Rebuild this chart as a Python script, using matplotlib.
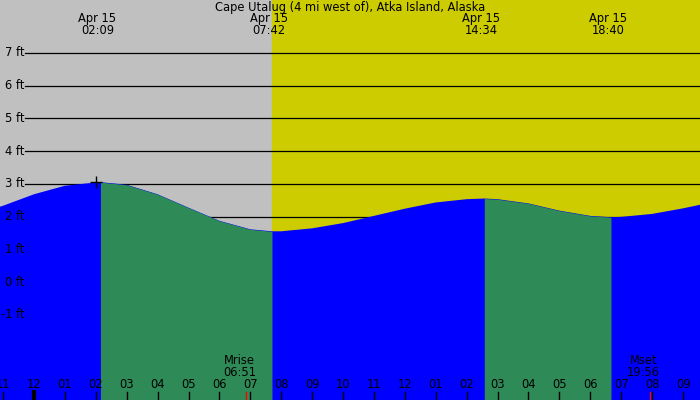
import numpy as np
import matplotlib
matplotlib.use('Agg')
from matplotlib import pyplot as plt

title = "Cape Utalug (4 mi west of), Atka Island, Alaska"
# tide height (ft), hours after midnight Apr 15
hours = [-1.1, -1, 0, 1, 2, 2.15, 3, 4, 5, 6, 7, 7.7, 8, 9, 10, 11, 12, 13, 14, 14.57,
         15, 16, 17, 18, 18.67, 19, 20, 21, 21.6]
heights = [2.30, 2.33, 2.68, 2.94, 3.04, 3.05, 2.97, 2.68, 2.27, 1.87, 1.61, 1.55, 1.55, 1.64,
           1.80, 2.02, 2.24, 2.43, 2.53, 2.55, 2.53, 2.40, 2.18, 2.02, 1.98, 1.99, 2.08, 2.25, 2.37]
falling = [(2.15, 7.7), (14.57, 18.67)]  # high -> low, drawn green
sunrise = 7.7
top_labels = [(2.15, "02:09"), (7.7, "07:42"), (14.57, "14:34"), (18.67, "18:40")]
moon = [(6.85, "Mrise", "06:51"), (19.93, "Mset", "19:56")]
ft_levels = [-1, 0, 1, 2, 3, 4, 5, 6, 7]

x0, x1 = -1.1, 21.55
y0, y1 = -3.6, 8.61
fs = 8.3

fig = plt.figure(figsize=(7, 4), dpi=100)
ax = fig.add_axes([0, 0, 1, 1])
ax.set_xlim(x0, x1)
ax.set_ylim(y0, y1)
ax.axis('off')

ax.axvspan(x0, sunrise, color='#c0c0c0', zorder=0)
ax.axvspan(sunrise, x1, color='#cccc00', zorder=0)

lx = x0 + (x1 - x0) * 25 / 700
for f in ft_levels:
    ax.plot([lx, x1], [f, f], color='black', lw=0.9, zorder=1)
    ax.text(lx - 0.03, f, f"{f} ft", ha='right', va='center', fontsize=fs, zorder=4)

h = np.array(hours)
v = np.array(heights)
ax.fill_between(h, y0, v, color='#0000ff', lw=0, zorder=2)
for a, b in falling:
    m = (h >= a) & (h <= b)
    ax.fill_between(h[m], y0, v[m], color='#2e8b57', lw=0, zorder=3)

ax.plot([2.0], [3.05], marker='+', color='black', ms=8, mew=1, zorder=5)

px = (y1 - y0) / 400
ax.text((x0 + x1) / 2, y1 - 8 * px, title, ha='center', va='center', fontsize=fs)
for t, s in top_labels:
    ax.text(t - 0.1, y1 - 19 * px, "Apr 15", ha='center', va='center', fontsize=fs)
    ax.text(t - 0.1, y1 - 31 * px, s, ha='center', va='center', fontsize=fs)

for hr in range(-1, 22):
    lab = f"{(hr % 12) or 12:02d}"
    ax.text(hr, y0 + 15 * px, lab, ha='center', va='center', fontsize=fs, zorder=6)
    ax.plot([hr, hr], [y0, y0 + 8 * px], color='black', lw=3 if hr == 0 else 1, zorder=6)
for t, a, b in moon:
    ax.plot([t, t], [y0, y0 + 8 * px], color='red', lw=1, zorder=6)
    ax.text(t - 0.2, y0 + 39 * px, a, ha='center', va='center', fontsize=fs, zorder=6)
    ax.text(t - 0.2, y0 + 27 * px, b, ha='center', va='center', fontsize=fs, zorder=6)

fig.savefig('out.png', dpi=100)
plt.close(fig)
